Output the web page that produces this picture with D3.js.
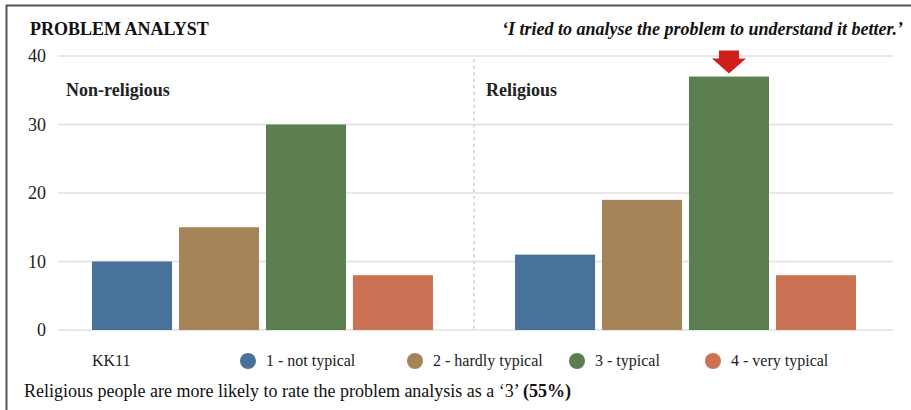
<!DOCTYPE html>
<html>
<head>
<meta charset="utf-8">
<script src="https://cdn.jsdelivr.net/npm/d3@7"></script>
<style>
  body { margin: 0; background: #fff; }
</style>
</head>
<body>
<div id="chart"></div>
<script>
// data
var groups = ["Non-religious", "Religious"];
var categories = ["1 - not typical", "2 - hardly typical", "3 - typical", "4 - very typical"];
var nonReligious = [10, 15, 30, 8];
var religious = [11, 19, 37, 8];
var yTicks = [0, 10, 20, 30, 40];
var colors = ["#48729c", "#a58459", "#5b7f50", "#cc7254"];

var width = 911, height = 410;
var serif = "'Liberation Serif', 'Times New Roman', Times, 'DejaVu Serif', serif";

var svg = d3.select("#chart").append("svg")
    .attr("width", width)
    .attr("height", height)
    .attr("font-family", serif)
    .style("font-family", serif);

// frame (left + top lines)
svg.append("path")
    .attr("d", "M6.5,410 L6.5,5.5 L911,5.5")
    .attr("fill", "none")
    .attr("stroke", "#555")
    .attr("stroke-width", 2);

var y = d3.scaleLinear().domain([0, 40]).range([330, 56]);

var x0 = d3.scaleBand().domain(groups)
    .range([51, 897])
    .paddingInner(0.194)
    .paddingOuter(0.097);

var x1 = d3.scaleBand().domain(categories)
    .range([0, x0.bandwidth()])
    .paddingInner(0.08)
    .paddingOuter(0);

// gridlines
svg.append("g").selectAll("line")
  .data(yTicks)
  .enter().append("line")
    .attr("x1", 58).attr("x2", 893)
    .attr("y1", function(d) { return y(d); })
    .attr("y2", function(d) { return y(d); })
    .attr("stroke", "#e0e0e0")
    .attr("stroke-width", 1.5);

// y labels
svg.append("g").selectAll("text")
  .data(yTicks)
  .enter().append("text")
    .attr("x", 46)
    .attr("y", function(d) { return y(d) + 6; })
    .attr("text-anchor", "end")
    .style("font-size", "18px")
    .attr("fill", "#222")
    .text(function(d) { return d; });

// divider between groups
var divX = (x0("Non-religious") + x0.bandwidth() + x0("Religious")) / 2;
svg.append("line")
    .attr("x1", divX).attr("x2", divX)
    .attr("y1", 60).attr("y2", 330)
    .attr("stroke", "#d8d8d8")
    .attr("stroke-width", 2)
    .attr("stroke-dasharray", "1.5,5")
    .attr("stroke-linecap", "round");

var series = [
  {group: "Non-religious", values: nonReligious},
  {group: "Religious", values: religious}
];

series.forEach(function(s) {
  var g = svg.append("g")
      .attr("transform", "translate(" + x0(s.group) + ",0)");
  g.selectAll("rect")
    .data(s.values)
    .enter().append("rect")
      .attr("x", function(d, i) { return x1(categories[i]); })
      .attr("width", x1.bandwidth())
      .attr("y", function(d) { return y(d); })
      .attr("height", function(d) { return y(0) - y(d); })
      .attr("fill", function(d, i) { return colors[i]; });
});

// group labels
svg.append("text").attr("x", 66).attr("y", 96)
    .style("font-size", "18px").style("font-weight", "bold").attr("fill", "#222")
    .text("Non-religious");
svg.append("text").attr("x", 486).attr("y", 96)
    .style("font-size", "18px").style("font-weight", "bold").attr("fill", "#222")
    .text("Religious");

// red arrow above the highest bar
var ax = x0("Religious") + x1("3 - typical") + x1.bandwidth() / 2;
var tipY = y(d3.max(religious)) - 3;
svg.append("path")
    .attr("d", "M" + (ax - 10) + "," + (tipY - 23) +
               " L" + (ax + 10) + "," + (tipY - 23) +
               " L" + (ax + 10) + "," + (tipY - 15) +
               " L" + (ax + 17) + "," + (tipY - 15) +
               " L" + ax + "," + tipY +
               " L" + (ax - 17) + "," + (tipY - 15) +
               " L" + (ax - 10) + "," + (tipY - 15) + " Z")
    .attr("fill", "#d01f1a");

// title + subtitle
svg.append("text").attr("x", 30).attr("y", 35)
    .style("font-size", "18px").style("font-weight", "bold").attr("fill", "#111")
    .text("PROBLEM ANALYST");
svg.append("text").attr("x", 903).attr("y", 35)
    .attr("text-anchor", "end")
    .style("font-size", "18px").style("font-weight", "bold").style("font-style", "italic").attr("fill", "#111")
    .text("\u2018I tried to analyse the problem to understand it better.\u2019");

// legend
svg.append("text").attr("x", 92).attr("y", 366)
    .style("font-size", "16px").attr("fill", "#222")
    .text("KK11");
var legendX = [248, 415, 577, 713];
var legend = svg.append("g").selectAll("g")
  .data(categories)
  .enter().append("g")
    .attr("transform", function(d, i) { return "translate(" + legendX[i] + ",361)"; });
legend.append("circle")
    .attr("r", 8)
    .attr("fill", function(d, i) { return colors[i]; });
legend.append("text")
    .attr("x", 18).attr("y", 5)
    .style("font-size", "16px").attr("fill", "#222")
    .text(function(d) { return d; });

// footer note
var note = svg.append("text").attr("x", 24).attr("y", 397)
    .style("font-size", "18px").attr("fill", "#111");
note.append("tspan").text("Religious people are more likely to rate the problem analysis as a \u20183\u2019 ");
note.append("tspan").style("font-weight", "bold").text("(55%)");
</script>
</body>
</html>
